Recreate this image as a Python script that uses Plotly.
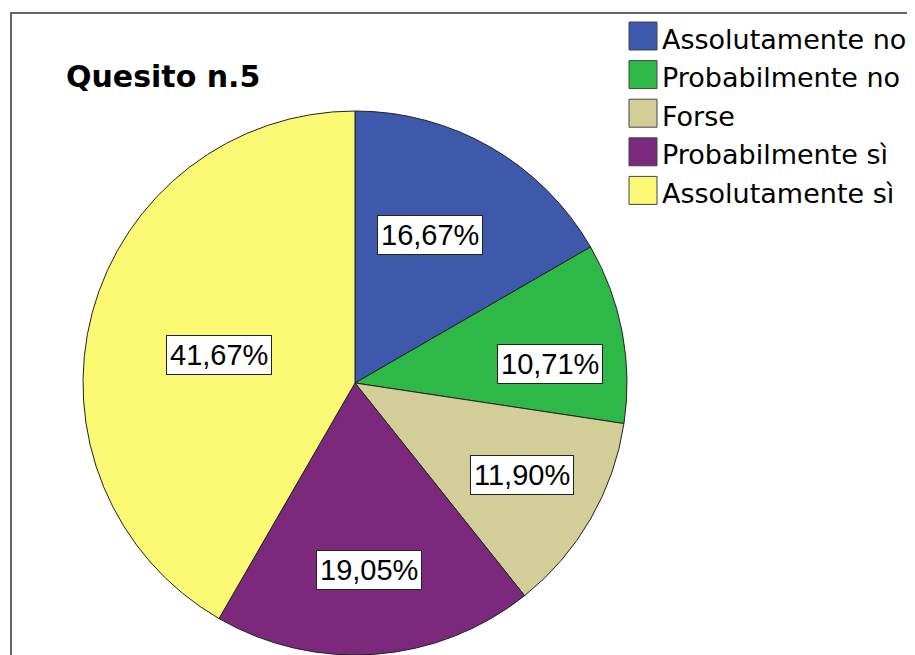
import math
import plotly.graph_objects as go

# ---- data ----
categories = ["Assolutamente no", "Probabilmente no", "Forse", "Probabilmente sì", "Assolutamente sì"]
counts = [14, 9, 10, 16, 35]
pct_labels = ["16,67%", "10,71%", "11,90%", "19,05%", "41,67%"]
colors = ["#3E58AC", "#2EB848", "#D3CE97", "#7C287D", "#FBF873"]
title_text = "Quesito n.5"

# ---- layout constants (pixels, as seen in the page) ----
W, H = 915, 655
OFF = 8  # page body margin
cx, cy, R = 355, 383, 272
label_radius_frac = [0.61, 0.72, 0.70, 0.69, 0.51]
label_angle_shift = [-3, 5, -1, 0, -3.5]
FONT = "Liberation Sans, Arial, sans-serif"
WIDE_FONT = "DejaVu Sans, sans-serif"


def px_x(x):
    return (x - OFF) / W


def px_y(y):
    return 1 - (y - OFF) / H


fig = go.Figure()
fig.add_trace(go.Pie(
    labels=categories,
    values=counts,
    sort=False,
    direction="clockwise",
    rotation=0,
    marker=dict(colors=colors, line=dict(color="#222222", width=1)),
    textinfo="none",
    hoverinfo="label+percent",
    showlegend=False,
    domain=dict(x=[px_x(cx - R), px_x(cx + R)], y=[max(0, px_y(cy + R)), px_y(cy - R)]),
))

annotations = []
shapes = []

# percentage labels in boxes, placed around the slice mid-angles
total = sum(counts)
cum = 0
for i, v in enumerate(counts):
    mid = (cum + v / 2) / total * 2 * math.pi + math.radians(label_angle_shift[i])
    cum += v
    r = R * label_radius_frac[i]
    lx = cx + r * math.sin(mid)
    ly = cy - r * math.cos(mid)
    annotations.append(dict(
        x=px_x(lx), y=px_y(ly), xref="paper", yref="paper",
        text=pct_labels[i], showarrow=False,
        font=dict(family=FONT, size=29, color="black"),
        bgcolor="white", bordercolor="#222222", borderwidth=1, borderpad=3,
        xanchor="center", yanchor="middle",
    ))

# title
annotations.append(dict(
    x=px_x(64), y=px_y(76), xref="paper", yref="paper",
    text="<b>" + title_text + "</b>", showarrow=False,
    font=dict(family=WIDE_FONT, size=30, color="black"),
    xanchor="left", yanchor="middle",
))

# custom legend (large swatches)
row0, step, sw = 36, 38.6, 28
for i, (name, col) in enumerate(zip(categories, colors)):
    yc = row0 + step * i
    shapes.append(dict(
        type="rect", xref="paper", yref="paper",
        x0=px_x(629), x1=px_x(629 + sw), y0=px_y(yc + sw / 2), y1=px_y(yc - sw / 2),
        fillcolor=col, line=dict(color="#444444", width=1),
    ))
    annotations.append(dict(
        x=px_x(660), y=px_y(yc + 3), xref="paper", yref="paper",
        text=name, showarrow=False,
        font=dict(family=WIDE_FONT, size=27, color="black"),
        xanchor="left", yanchor="middle",
    ))

# outer frame
shapes.append(dict(
    type="rect", xref="paper", yref="paper",
    x0=px_x(11), x1=px_x(W + 20), y0=px_y(H + 20), y1=px_y(13),
    line=dict(color="#333333", width=1.5), fillcolor="rgba(0,0,0,0)", layer="below",
))

fig.update_layout(
    width=W, height=H,
    margin=dict(l=0, r=0, t=0, b=0),
    paper_bgcolor="white", plot_bgcolor="white",
    annotations=annotations, shapes=shapes,
    showlegend=False,
)

fig.write_html("out.html")
